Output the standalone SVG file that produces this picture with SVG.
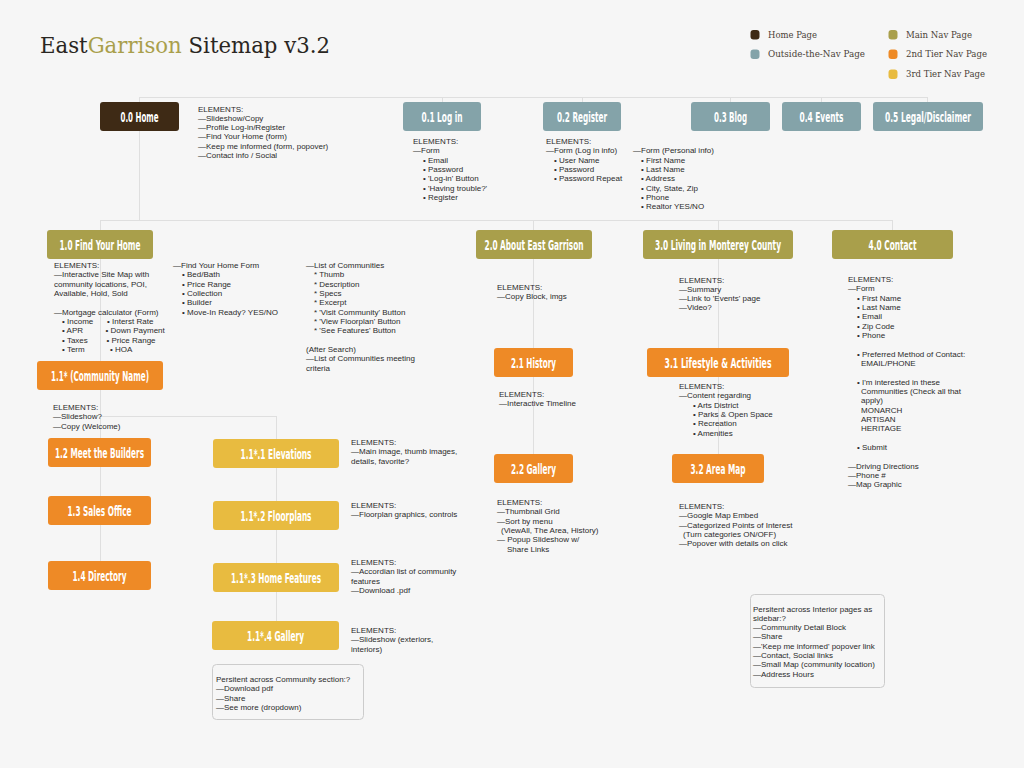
<svg xmlns="http://www.w3.org/2000/svg" width="1024" height="768" viewBox="0 0 1024 768">
<style>
.conn line{stroke:#dfdfdf;stroke-width:1;fill:none}
.box{stroke:none}
.home{fill:#3e2a15}
.out{fill:#84a3a9}
.main{fill:#a99f4b}
.t2{fill:#ee8a26}
.t3{fill:#e8bb40}
.lbl{font-family:'Liberation Sans Narrow','DejaVu Sans Condensed','Liberation Sans',sans-serif;font-weight:bold;font-size:13.5px;fill:#ffffff;text-anchor:middle}
.txt{font-family:'Liberation Sans',Arial,sans-serif;font-size:8px;fill:#2b2b2b}
.leg{font-family:'DejaVu Serif','Liberation Serif',serif;font-size:9px;fill:#4a3f36}
.note{fill:none;stroke:#cccccc;stroke-width:1}
</style>
<rect x="0" y="0" width="1024" height="768" fill="#f6f6f6"/>

<text x="40" y="53" font-family="'DejaVu Serif','Liberation Serif',serif" font-size="22.5" fill="#2a2622" textLength="290" lengthAdjust="spacingAndGlyphs"><tspan>East</tspan><tspan fill="#a99f4b">Garrison</tspan><tspan> Sitemap v3.2</tspan></text>

<g id="legend">
<rect x="750.5" y="30" width="9" height="9.5" rx="3" class="home"/>
<text x="768" y="37.5" class="leg" textLength="49" lengthAdjust="spacingAndGlyphs">Home Page</text>
<rect x="750.5" y="49.5" width="9" height="9.5" rx="3" class="out"/>
<text x="768" y="57" class="leg" textLength="97" lengthAdjust="spacingAndGlyphs">Outside-the-Nav Page</text>
<rect x="888.5" y="30" width="9" height="9.5" rx="3" class="main"/>
<text x="906" y="37.5" class="leg" textLength="66" lengthAdjust="spacingAndGlyphs">Main Nav Page</text>
<rect x="888.5" y="49.5" width="9" height="9.5" rx="3" class="t2"/>
<text x="906" y="57" class="leg" textLength="81" lengthAdjust="spacingAndGlyphs">2nd Tier Nav Page</text>
<rect x="888.5" y="69.5" width="9" height="9.5" rx="3" class="t3"/>
<text x="906" y="77" class="leg" textLength="79" lengthAdjust="spacingAndGlyphs">3rd Tier Nav Page</text>
</g>

<g id="connectors" class="conn">
<line x1="139" y1="97.5" x2="928" y2="97.5"/>
<line x1="139.5" y1="97" x2="139.5" y2="220"/>
<line x1="442.5" y1="97" x2="442.5" y2="102"/>
<line x1="582.5" y1="97" x2="582.5" y2="102"/>
<line x1="730.5" y1="97" x2="730.5" y2="102"/>
<line x1="821.5" y1="97" x2="821.5" y2="102"/>
<line x1="927.5" y1="97" x2="927.5" y2="102"/>
<line x1="100" y1="220.5" x2="892" y2="220.5"/>
<line x1="100.5" y1="220" x2="100.5" y2="575"/>
<line x1="533.5" y1="220" x2="533.5" y2="468"/>
<line x1="718.5" y1="220" x2="718.5" y2="468"/>
<line x1="892.5" y1="220" x2="892.5" y2="230"/>
<line x1="100" y1="416.5" x2="276" y2="416.5"/>
<line x1="276.5" y1="416" x2="276.5" y2="635"/>
</g>

<g id="n00"><rect class="box home" x="100" y="102" width="79" height="29" rx="3"/><text class="lbl" x="139.5" y="121.5" textLength="38" lengthAdjust="spacingAndGlyphs">0.0 Home</text></g>
<g id="n01"><rect class="box out" x="403" y="102" width="78" height="29" rx="3"/><text class="lbl" x="442" y="121.5" textLength="41" lengthAdjust="spacingAndGlyphs">0.1 Log in</text></g>
<g id="n02"><rect class="box out" x="543" y="102" width="78" height="29" rx="3"/><text class="lbl" x="582" y="121.5" textLength="50" lengthAdjust="spacingAndGlyphs">0.2 Register</text></g>
<g id="n03"><rect class="box out" x="691" y="102" width="79" height="29" rx="3"/><text class="lbl" x="730.5" y="121.5" textLength="33" lengthAdjust="spacingAndGlyphs">0.3 Blog</text></g>
<g id="n04"><rect class="box out" x="782" y="102" width="79" height="29" rx="3"/><text class="lbl" x="821.5" y="121.5" textLength="44" lengthAdjust="spacingAndGlyphs">0.4 Events</text></g>
<g id="n05"><rect class="box out" x="873" y="102" width="110" height="29" rx="3"/><text class="lbl" x="928" y="121.5" textLength="86" lengthAdjust="spacingAndGlyphs">0.5 Legal/Disclaimer</text></g>

<g id="n10"><rect class="box main" x="47" y="230" width="106" height="29" rx="3"/><text class="lbl" x="100" y="249.5" textLength="81" lengthAdjust="spacingAndGlyphs">1.0 Find Your Home</text></g>
<g id="n20"><rect class="box main" x="476" y="230" width="116" height="29" rx="3"/><text class="lbl" x="534" y="249.5" textLength="99" lengthAdjust="spacingAndGlyphs">2.0 About East Garrison</text></g>
<g id="n30"><rect class="box main" x="643" y="230" width="150" height="29" rx="3"/><text class="lbl" x="718" y="249.5" textLength="126" lengthAdjust="spacingAndGlyphs">3.0 Living in Monterey County</text></g>
<g id="n40"><rect class="box main" x="832" y="230" width="121" height="29" rx="3"/><text class="lbl" x="892.5" y="249.5" textLength="48" lengthAdjust="spacingAndGlyphs">4.0 Contact</text></g>

<g id="n11"><rect class="box t2" x="37" y="361" width="126" height="29" rx="3"/><text class="lbl" x="100" y="380.5" textLength="98" lengthAdjust="spacingAndGlyphs">1.1* (Community Name)</text></g>
<g id="n12"><rect class="box t2" x="48" y="438" width="103" height="29" rx="3"/><text class="lbl" x="99.5" y="457.5" textLength="89" lengthAdjust="spacingAndGlyphs">1.2 Meet the Builders</text></g>
<g id="n13"><rect class="box t2" x="48" y="496" width="103" height="29" rx="3"/><text class="lbl" x="99.5" y="515.5" textLength="64" lengthAdjust="spacingAndGlyphs">1.3 Sales Office</text></g>
<g id="n14"><rect class="box t2" x="48" y="561" width="103" height="29" rx="3"/><text class="lbl" x="99.5" y="580.5" textLength="54" lengthAdjust="spacingAndGlyphs">1.4 Directory</text></g>

<g id="n111"><rect class="box t3" x="213" y="439" width="126" height="29" rx="3"/><text class="lbl" x="276" y="458.5" textLength="71" lengthAdjust="spacingAndGlyphs">1.1*.1 Elevations</text></g>
<g id="n112"><rect class="box t3" x="213" y="501" width="126" height="29" rx="3"/><text class="lbl" x="276" y="520.5" textLength="71" lengthAdjust="spacingAndGlyphs">1.1*.2 Floorplans</text></g>
<g id="n113"><rect class="box t3" x="213" y="563" width="126" height="29" rx="3"/><text class="lbl" x="276" y="582.5" textLength="90" lengthAdjust="spacingAndGlyphs">1.1*.3 Home Features</text></g>
<g id="n114"><rect class="box t3" x="212" y="621" width="127" height="29" rx="3"/><text class="lbl" x="275.5" y="640.5" textLength="57" lengthAdjust="spacingAndGlyphs">1.1*.4 Gallery</text></g>

<g id="n21"><rect class="box t2" x="494" y="348" width="79" height="29" rx="3"/><text class="lbl" x="533.5" y="367.5" textLength="45" lengthAdjust="spacingAndGlyphs">2.1 History</text></g>
<g id="n22"><rect class="box t2" x="494" y="454" width="79" height="29" rx="3"/><text class="lbl" x="533.5" y="473.5" textLength="45" lengthAdjust="spacingAndGlyphs">2.2 Gallery</text></g>
<g id="n31"><rect class="box t2" x="647" y="348" width="142" height="29" rx="3"/><text class="lbl" x="718" y="367.5" textLength="107" lengthAdjust="spacingAndGlyphs">3.1 Lifestyle &amp; Activities</text></g>
<g id="n32"><rect class="box t2" x="672" y="454" width="92" height="29" rx="3"/><text class="lbl" x="718" y="473.5" textLength="55" lengthAdjust="spacingAndGlyphs">3.2 Area Map</text></g>

<g id="notes">
<text class="txt"><tspan x="198" y="111.5">ELEMENTS:</tspan><tspan x="198" y="120.8">—Slideshow/Copy</tspan><tspan x="198" y="130.1">—Profile Log-in/Register</tspan><tspan x="198" y="139.4">—Find Your Home (form)</tspan><tspan x="198" y="148.7">—Keep me informed (form, popover)</tspan><tspan x="198" y="158">—Contact info / Social</tspan></text>

<text class="txt"><tspan x="413" y="144">ELEMENTS:</tspan><tspan x="413" y="153.3">—Form</tspan><tspan x="423" y="162.6">• Email</tspan><tspan x="423" y="172">• Password</tspan><tspan x="423" y="181.3">• 'Log-in' Button</tspan><tspan x="423" y="190.6">• 'Having trouble?'</tspan><tspan x="423" y="200">• Register</tspan></text>

<text class="txt"><tspan x="546" y="144">ELEMENTS:</tspan><tspan x="546" y="153.3">—Form (Log in info)</tspan><tspan x="554" y="162.6">• User Name</tspan><tspan x="554" y="172">• Password</tspan><tspan x="554" y="181.3">• Password Repeat</tspan></text>

<text class="txt"><tspan x="633" y="153.3">—Form (Personal info)</tspan><tspan x="641" y="162.6">• First Name</tspan><tspan x="641" y="172">• Last Name</tspan><tspan x="641" y="181.3">• Address</tspan><tspan x="641" y="190.6">• City, State, Zip</tspan><tspan x="641" y="200">• Phone</tspan><tspan x="641" y="209.3">• Realtor YES/NO</tspan></text>

<text class="txt"><tspan x="54" y="268">ELEMENTS:</tspan><tspan x="54" y="277.3">—Interactive Site Map with</tspan><tspan x="54" y="286.6">community locations, POI,</tspan><tspan x="54" y="296">Available, Hold, Sold</tspan><tspan x="54" y="314.6">—Mortgage calculator (Form)</tspan><tspan x="62" y="324">• Income</tspan><tspan x="62" y="333.3">• APR</tspan><tspan x="62" y="342.6">• Taxes</tspan><tspan x="62" y="352">• Term</tspan></text>
<text class="txt"><tspan x="107" y="324">• Interst Rate</tspan><tspan x="105.5" y="333.3">• Down Payment</tspan><tspan x="106.5" y="342.6">• Price Range</tspan><tspan x="110" y="352">• HOA</tspan></text>

<text class="txt"><tspan x="173" y="268">—Find Your Home Form</tspan><tspan x="182" y="277.3">• Bed/Bath</tspan><tspan x="182" y="286.6">• Price Range</tspan><tspan x="182" y="296">• Collection</tspan><tspan x="182" y="305.3">• Builder</tspan><tspan x="182" y="314.6">• Move-In Ready? YES/NO</tspan></text>

<text class="txt"><tspan x="306" y="268">—List of Communities</tspan><tspan x="314" y="277.3">* Thumb</tspan><tspan x="314" y="286.6">* Description</tspan><tspan x="314" y="296">* Specs</tspan><tspan x="314" y="305.3">* Excerpt</tspan><tspan x="314" y="314.6">* 'Visit Community' Button</tspan><tspan x="314" y="324">* 'View Floorplan' Button</tspan><tspan x="314" y="333.3">* 'See Features' Button</tspan><tspan x="306" y="352">(After Search)</tspan><tspan x="306" y="361.3">—List of Communities meeting</tspan><tspan x="306" y="370.6">criteria</tspan></text>

<text class="txt"><tspan x="53" y="410">ELEMENTS:</tspan><tspan x="53" y="419.3">—Slideshow?</tspan><tspan x="53" y="428.6">—Copy (Welcome)</tspan></text>

<text class="txt"><tspan x="497" y="290">ELEMENTS:</tspan><tspan x="497" y="299.3">—Copy Block, imgs</tspan></text>
<text class="txt"><tspan x="679" y="282.5">ELEMENTS:</tspan><tspan x="679" y="291.8">—Summary</tspan><tspan x="679" y="301.1">—Link to 'Events' page</tspan><tspan x="679" y="310.4">—Video?</tspan></text>
<text class="txt"><tspan x="499" y="397">ELEMENTS:</tspan><tspan x="499" y="406.3">—Interactive Timeline</tspan></text>
<text class="txt"><tspan x="679" y="389">ELEMENTS:</tspan><tspan x="679" y="398.3">—Content regarding</tspan><tspan x="693" y="407.6">• Arts District</tspan><tspan x="693" y="417">• Parks &amp; Open Space</tspan><tspan x="693" y="426.3">• Recreation</tspan><tspan x="693" y="435.6">• Amenities</tspan></text>

<text class="txt"><tspan x="497" y="505">ELEMENTS:</tspan><tspan x="497" y="514.3">—Thumbnail Grid</tspan><tspan x="497" y="523.6">—Sort by menu</tspan><tspan x="501" y="533">(ViewAll, The Area, History)</tspan><tspan x="497" y="542.3">— Popup Slideshow w/</tspan><tspan x="507" y="551.6">Share Links</tspan></text>
<text class="txt"><tspan x="679" y="509">ELEMENTS:</tspan><tspan x="679" y="518.3">—Google Map Embed</tspan><tspan x="679" y="527.6">—Categorized Points of Interest</tspan><tspan x="683" y="537">(Turn categories ON/OFF)</tspan><tspan x="679" y="546.3">—Popover with details on click</tspan></text>

<text class="txt"><tspan x="848" y="282">ELEMENTS:</tspan><tspan x="848" y="291.3">—Form</tspan><tspan x="857" y="300.6">• First Name</tspan><tspan x="857" y="310">• Last Name</tspan><tspan x="857" y="319.3">• Email</tspan><tspan x="857" y="328.6">• Zip Code</tspan><tspan x="857" y="338">• Phone</tspan><tspan x="857" y="356.6">• Preferred Method of Contact:</tspan><tspan x="861" y="366">EMAIL/PHONE</tspan><tspan x="857" y="384.6">• I'm interested in these</tspan><tspan x="861" y="394">Communities (Check all that</tspan><tspan x="861" y="403.3">apply)</tspan><tspan x="861" y="412.6">MONARCH</tspan><tspan x="861" y="422">ARTISAN</tspan><tspan x="861" y="431.3">HERITAGE</tspan><tspan x="857" y="450">• Submit</tspan><tspan x="848" y="468.6">—Driving Directions</tspan><tspan x="848" y="478">—Phone #</tspan><tspan x="848" y="487.3">—Map Graphic</tspan></text>

<text class="txt"><tspan x="351" y="445">ELEMENTS:</tspan><tspan x="351" y="454.3">—Main image, thumb images,</tspan><tspan x="351" y="463.6">details, favorite?</tspan></text>
<text class="txt"><tspan x="351" y="508">ELEMENTS:</tspan><tspan x="351" y="517.3">—Floorplan graphics, controls</tspan></text>
<text class="txt"><tspan x="351" y="565">ELEMENTS:</tspan><tspan x="351" y="574.3">—Accordian list of community</tspan><tspan x="351" y="583.6">features</tspan><tspan x="351" y="593">—Download .pdf</tspan></text>
<text class="txt"><tspan x="351" y="633">ELEMENTS:</tspan><tspan x="351" y="642.3">—Slideshow (exteriors,</tspan><tspan x="351" y="651.6">interiors)</tspan></text>
</g>

<g id="persist-community">
<rect class="note" x="212.5" y="664.5" width="151" height="55" rx="4"/>
<text class="txt"><tspan x="216" y="682">Persitent across Community section:?</tspan><tspan x="216" y="691.3">—Download pdf</tspan><tspan x="216" y="700.6">—Share</tspan><tspan x="216" y="710">—See more (dropdown)</tspan></text>
</g>

<g id="persist-interior">
<rect class="note" x="750.5" y="594.5" width="134" height="93" rx="4"/>
<text class="txt"><tspan x="753" y="611.5">Persitent across Interior pages as</tspan><tspan x="753" y="620.8">sidebar:?</tspan><tspan x="753" y="630.1">—Community Detail Block</tspan><tspan x="753" y="639.4">—Share</tspan><tspan x="753" y="648.7">—'Keep me informed' popover link</tspan><tspan x="753" y="658">—Contact, Social links</tspan><tspan x="753" y="667.3">—Small Map (community location)</tspan><tspan x="753" y="676.6">—Address Hours</tspan></text>
</g>
</svg>
